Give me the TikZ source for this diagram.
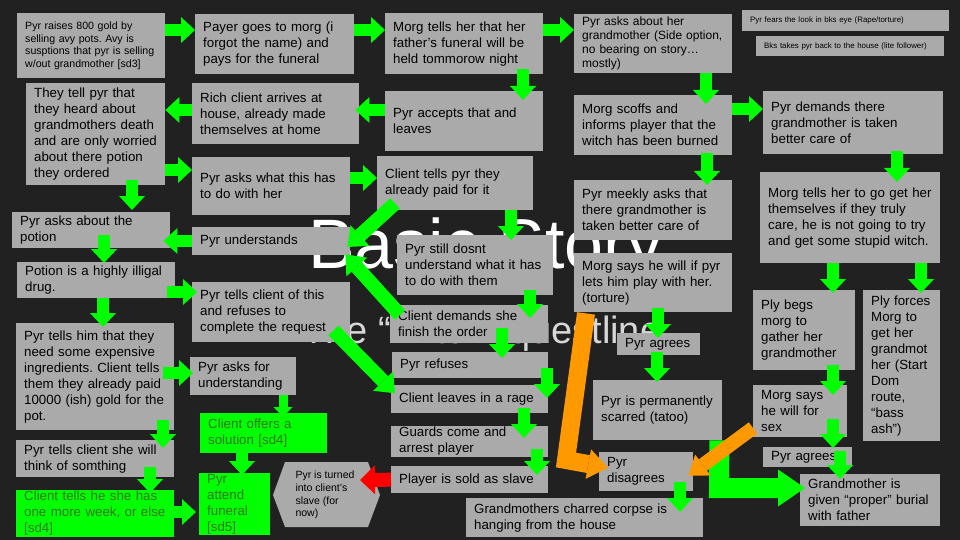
\documentclass[tikz,border=0pt]{standalone}
\usepackage{fontspec}
\setmainfont{Liberation Sans}
\usetikzlibrary{arrows.meta,calc}
\definecolor{bgc}{RGB}{33,33,33}
\definecolor{boxg}{RGB}{170,170,170}
\definecolor{lime1}{RGB}{0,255,0}
\definecolor{gtxt}{RGB}{56,118,29}
\definecolor{org1}{RGB}{255,153,0}
\definecolor{red1}{RGB}{255,0,0}
\definecolor{subc}{RGB}{215,215,215}
\tikzset{
 box/.style={fill=boxg, text=black, inner xsep=8pt, inner ysep=1pt, align=left, anchor=north west, font=\fontsize{13.3}{16}\selectfont},
 gbx/.style={fill=lime1, text=gtxt},
 smallfont/.style={font=\fontsize{10.6}{12.7}\selectfont},
 midfont/.style={font=\fontsize{12}{14}\selectfont},
 tinyfont/.style={font=\fontsize{7.9}{9.5}\selectfont},
 garr/.style={draw=lime1, line width=12pt, -{Triangle[length=14pt,width=26pt,line width=0pt]}},
 gsm/.style={draw=lime1, line width=9pt, -{Triangle[length=10pt,width=19pt,line width=0pt]}},
 gdg/.style={draw=lime1, line width=14pt, -{Triangle[length=17pt,width=28pt,line width=0pt]}},
 gbg/.style={draw=lime1, line width=20pt, line join=miter, -{Triangle[length=27pt,width=37pt,line width=0pt]}},
 oar/.style={draw=org1, line width=18pt, line join=miter, -{Triangle[length=20pt,width=30pt,line width=0pt]}},
 oartwo/.style={draw=org1, line width=14pt, -{Triangle[length=18pt,width=26pt,line width=0pt]}},
 rar/.style={draw=red1, line width=14pt, -{Triangle[length=15pt,width=29pt,line width=0pt]}},
}
\newcommand\slbox[7][]{%
 \pgfmathsetmacro\bw{#4-#2}\pgfmathsetmacro\bh{#5-#3}\pgfmathsetmacro\tw{#4-#2-16}%
 \node[box,minimum width=\bw pt,minimum height=\bh pt,text width=\tw pt,#1] (#6) at (#2,#3) {#7};}
\begin{document}
\frenchspacing
\begin{tikzpicture}[x=1pt,y=-1pt]
\fill[bgc] (0,0) rectangle (960,540);
\useasboundingbox (0,0) rectangle (960,540);
\node[text=white, font=\fontsize{70}{70}\selectfont, anchor=base west, inner sep=0pt] (title) at (308,268) {Basic Story};
\node[text=subc, font=\fontsize{38}{38}\selectfont, anchor=base west, inner sep=0pt] (subtitle) at (302,343) {The “Witch” questline};
\slbox{192}{227}{350}{255}{Q}{Pyr understands}
\slbox{574}{253}{732}{312}{S}{Morg says he will if pyr\\lets him play with her.\\(torture)}
\slbox[smallfont]{17}{13}{165}{78}{A}{Pyr raises 800 gold by\\selling avy pots. Avy is\\susptions that pyr is selling\\w/out grandmother [sd3]}
\slbox{195}{14}{354}{74}{B}{Payer goes to morg (i\\forgot the name) and\\pays for the funeral}
\slbox{385}{13}{543}{74}{C}{Morg tells her that her\\father’s funeral will be\\held tommorow night}
\slbox[midfont]{574}{14}{732}{73}{D}{Pyr asks about her\\grandmother (Side option,\\no bearing on story…\\mostly)}
\slbox[tinyfont]{742}{10}{949}{31}{E}{Pyr fears the look in bks eye (Rape/torture)}
\slbox[tinyfont]{756}{36}{944}{56}{F}{Bks takes pyr back to the house (lite follower)}
\slbox{192}{83}{359}{144}{G}{Rich client arrives at\\house, already made\\themselves at home}
\slbox{26}{83}{165}{185}{H}{They tell pyr that\\they heard about\\grandmothers death\\and are only worried\\about there potion\\they ordered}
\slbox{385}{91}{543}{151}{I}{Pyr accepts that and\\leaves}
\slbox{574}{95}{732}{155}{J}{Morg scoffs and\\informs player that the\\witch has been burned}
\slbox{763}{91}{943}{154}{K}{Pyr demands there\\grandmother is taken\\better care of}
\slbox{192}{157}{350}{215}{L}{Pyr asks what this has\\to do with her}
\slbox{377}{156}{533}{210}{M}{Client tells pyr they\\already paid for it}
\slbox{574}{180}{732}{240}{N}{Pyr meekly asks that\\there grandmother is\\taken better care of}
\slbox{760}{172}{940}{263}{O}{Morg tells her to go get her\\themselves if they truly\\care, he is not going to try\\and get some stupid witch.}
\slbox{12}{212}{170}{248}{P}{Pyr asks about the\\potion}
\slbox{397}{235}{553}{295}{R}{Pyr still dosnt\\understand what it has\\to do with them}
\slbox{17}{262}{175}{298}{T}{Potion is a highly illigal\\drug.}
\slbox{192}{282}{350}{342}{U}{Pyr tells client of this\\and refuses to\\complete the request}
\slbox{390}{305}{548}{343}{V}{Client demands she\\finish the order}
\slbox{392}{352}{548}{378}{W}{Pyr refuses}
\slbox{391}{385}{548}{413}{X}{Client leaves in a rage}
\slbox{391}{426}{548}{454}{Y}{Guards come and\\arrest player}
\slbox{391}{466}{548}{493}{Z}{Player is sold as slave}
\slbox{190}{357}{296}{395}{AA}{Pyr asks for\\understanding}
\slbox{16}{323}{174}{430}{AB}{Pyr tells him that they\\need some expensive\\ingredients. Client tells\\them they already paid\\10000 (ish) gold for the\\pot.}
\slbox[gbx]{200}{413}{327}{453}{AC}{Client offers a\\solution [sd4]}
\slbox{16}{440}{174}{477}{AD}{Pyr tells client she will\\think of somthing}
\slbox[gbx]{16}{490}{174}{533}{AE}{Client tells he she has\\one more week, or else\\{}[sd4]}
\slbox[gbx]{199}{473}{270}{535}{AF}{Pyr\\attend\\funeral\\{}[sd5]}
\slbox{617}{333}{700}{355}{AG}{Pyr agrees}
\slbox{593}{380}{722}{440}{AH}{Pyr is permanently\\scarred (tatoo)}
\slbox{599}{452}{693}{491}{AI}{Pyr\\disagrees}
\slbox{466}{498}{703}{537}{AJ}{Grandmothers charred corpse is\\hanging from the house}
\slbox{753}{290}{855}{370}{AK}{Ply begs\\morg to\\gather her\\grandmother}
\slbox{863}{290}{940}{441}{AL}{Ply forces\\Morg to\\get her\\grandmot\\her (Start\\Dom\\route,\\“bass\\ash”)}
\slbox{753}{385}{847}{437}{AM}{Morg says\\he will for\\sex}
\slbox{763}{447}{852}{467}{AN}{Pyr agrees}
\slbox{800}{474}{940}{526}{AO}{Grandmother is\\given “proper” burial\\with father}
\fill[boxg] (273,495) -- (285,462) -- (368,462) -- (380,495) -- (368,527) -- (285,527) -- cycle;
\node[anchor=west, align=left, text=black, font=\fontsize{10.5}{12.7}\selectfont] (HX) at (292,495) {Pyr is turned\\into client’s\\slave (for\\now)};
\coordinate (hxr) at (360,480);
% arrows
\draw[garr] (A.east |- 0,30) -- (B.west |- 0,30);
\draw[garr] (B.east |- 0,30) -- (C.west |- 0,30);
\draw[garr] (C.east |- 0,30) -- (D.west |- 0,30);
\draw[garr] ($(523,0 |- C.south)+(0,-5)$) -- ($(523,0 |- I.north)+(0,9)$);
\draw[garr] (I.west |- 0,110) -- ($(G.east |- 0,110)+(-4,0)$);
\draw[garr] (G.west |- 0,110) -- (H.east |- 0,110);
\draw[garr] (706,0 |- D.south) -- ($(706,0 |- J.north)+(0,9)$);
\draw[garr] (J.east |- 0,109) -- (K.west |- 0,109);
\draw[garr] (H.east |- 0,170) -- (L.west |- 0,170);
\draw[garr] (L.east |- 0,178) -- (M.west |- 0,178);
\draw[garr] ($(707,0 |- J.south)+(0,-2)$) -- ($(707,0 |- N.north)+(0,5)$);
\draw[garr] ($(897,0 |- K.south)+(0,-3)$) -- ($(897,0 |- O.north)+(0,10)$);
\draw[garr] ($(132,0 |- H.south)+(0,-5)$) -- ($(132,0 |- P.north)+(0,-2)$);
\draw[garr] (Q.west |- 0,241) -- ($(P.east |- 0,241)+(-7,0)$);
\draw[gdg] ($(M.south west)+(18,-7)$) -- ($(Q.north east)+(-3,20)$);
\draw[gdg] ($(V.north west)+(10,10)$) -- ($(Q.south east)+(-5,-1)$);
\draw[gdg] ($(U.south east)+(-17,-12)$) -- ($(X.west)+(4,-6)$);
\draw[garr] ($(T.east |- 0,292)+(-8,0)$) -- ($(U.west |- 0,292)+(5,0)$);
\draw[garr] (511,0 |- M.south) -- ($(511,0 |- R.north)+(0,5)$);
\draw[garr] ($(530,0 |- R.south)+(0,-5)$) -- ($(530,0 |- V.north)+(0,13)$);
\draw[garr] ($(502,0 |- V.south)+(0,-15)$) -- ($(502,0 |- W.north)+(0,6)$);
\draw[garr] ($(547,0 |- W.south)+(0,-10)$) -- ($(547,0 |- X.north)+(0,13)$);
\draw[garr] ($(524,0 |- X.south)+(0,-5)$) -- ($(524,0 |- Y.north)+(0,12)$);
\draw[garr] ($(537,0 |- Y.south)+(0,-8)$) -- ($(537,0 |- Z.north)+(0,9)$);
\draw[rar] (Z.west) -- (hxr);
\draw[garr] ($(104,0 |- P.south)+(0,-13)$) -- ($(104,0 |- T.north)+(0,1)$);
\draw[garr] (103,0 |- T.south) -- ($(103,0 |- AB.north)+(0,4)$);
\draw[garr] ($(AB.east |- 0,373)+(-11,0)$) -- ($(AA.west |- 0,373)+(3,0)$);
\draw[gsm] (283,0 |- AA.south) -- ($(283,0 |- AC.north)+(0,4)$);
\draw[garr] ($(163,0 |- AB.south)+(0,-10)$) -- ($(163,0 |- AD.north)+(0,8)$);
\draw[garr] ($(150,0 |- AD.south)+(0,-10)$) -- ($(150,0 |- AE.north)+(0,3)$);
\draw[garr] (AE.east |- 0,512) -- ($(AF.west |- 0,512)+(-3,0)$);
\draw[garr] (242,0 |- AC.south) -- ($(242,0 |- AF.north)+(0,2)$);
\draw[garr] ($(658,0 |- S.south)+(0,-4)$) -- ($(658,0 |- AG.north)+(0,5)$);
\draw[garr] ($(657,0 |- AG.south)+(0,-3)$) -- ($(657,0 |- AH.north)+(0,2)$);
\draw[garr] ($(680,0 |- AI.south)+(0,-9)$) -- ($(680,0 |- AJ.north)+(0,14)$);
\draw[garr] (833,0 |- O.south) -- ($(833,0 |- AK.north)+(0,3)$);
\draw[garr] (921,0 |- O.south) -- ($(921,0 |- AL.north)+(0,3)$);
\draw[garr] ($(833,0 |- AK.south)+(0,-5)$) -- ($(833,0 |- AM.north)+(0,10)$);
\draw[garr] ($(833,0 |- AM.south)+(0,-18)$) -- ($(833,0 |- AN.north)+(0,1)$);
\draw[garr] ($(840,0 |- AN.north)+(0,4)$) -- ($(840,0 |- AO.north)+(0,5)$);
\draw[gbg] ($(AH.south east)+(-3,0)$) -- (719,488) -- ($(AO.west |- 0,488)+(5,0)$);
\draw[oar] ($(S.south west)+(12,1)$) -- (566,460) -- ($(AI.west)+(9,-4)$);
\draw[oartwo] (AM.west |- 0,428) -- ($(AI.east)+(-5,4)$);
\end{tikzpicture}
\end{document}
